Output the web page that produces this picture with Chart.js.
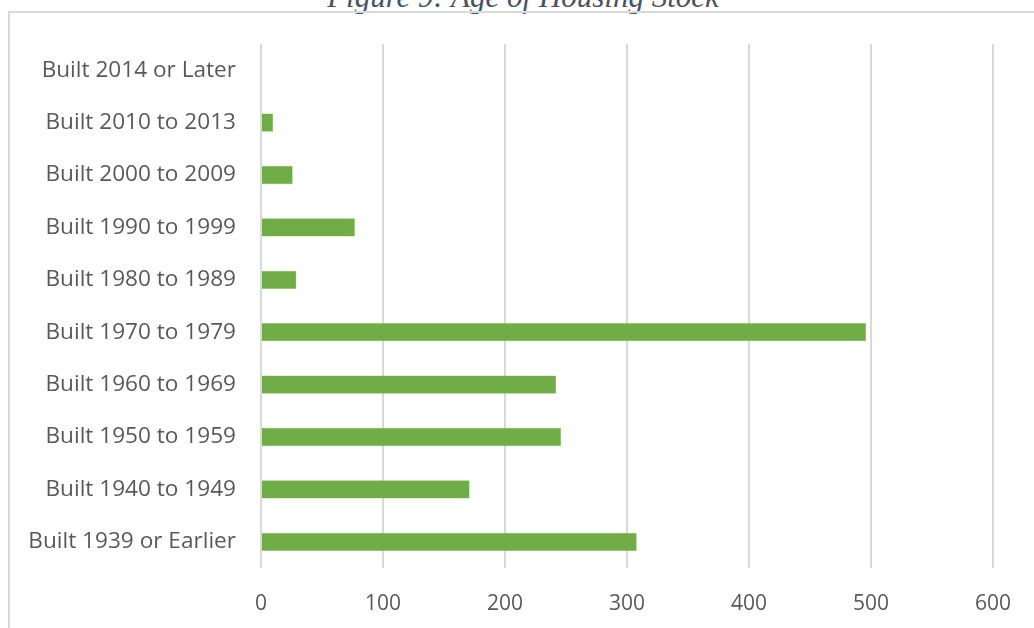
<!DOCTYPE html>
<html>
<head>
<meta charset="utf-8">
<script src="https://cdn.jsdelivr.net/npm/chart.js@4"></script>
<style>
  html, body { margin: 0; padding: 0; background: #fff; overflow: hidden; }
  #wrap { position: relative; width: 1034px; height: 628px; }
  #frame {
    position: absolute; left: 8px; top: 11px; width: 1100px; height: 700px;
    border: 2px solid #d9d9d9; box-sizing: border-box;
  }
  #title {
    position: absolute; left: 0; width: 1046px; top: -19px; text-align: center;
    font-family: "Liberation Serif", serif; font-style: italic; font-size: 31px;
    color: #44546a; line-height: 31px;
  }
  canvas { position: absolute; left: 0; top: 0; }
</style>
</head>
<body>
<div id="wrap">
  <div id="title">Figure 9: Age of Housing Stock</div>
  <div id="frame"></div>
  <canvas id="chart" width="1034" height="628"></canvas>
</div>
<script>
const categories = [
  'Built 2014 or Later',
  'Built 2010 to 2013',
  'Built 2000 to 2009',
  'Built 1990 to 1999',
  'Built 1980 to 1989',
  'Built 1970 to 1979',
  'Built 1960 to 1969',
  'Built 1950 to 1959',
  'Built 1940 to 1949',
  'Built 1939 or Earlier'
];
const units = [0, 10, 26, 77, 29, 496, 242, 246, 171, 308];
const xTicks = [0, 100, 200, 300, 400, 500, 600];

const ctx = document.getElementById('chart').getContext('2d');

new Chart(ctx, {
  type: 'bar',
  data: {
    labels: categories,
    datasets: [{
      data: units,
      backgroundColor: '#70ad47',
      borderColor: '#8cc46a',
      borderWidth: 0.5,
      barPercentage: 0.35,
      categoryPercentage: 1
    }]
  },
  options: {
    indexAxis: 'y',
    responsive: false,
    animation: false,
    layout: {
      padding: { left: 0, top: 44, right: 39, bottom: 0 }
    },
    scales: {
      x: {
        min: 0,
        max: 600,
        afterBuildTicks: (scale) => {
          scale.ticks = xTicks.map(v => ({ value: v }));
        },
        afterFit: (scale) => { scale.height = 60; },
        grid: { color: '#d9d9d9', lineWidth: 2, drawTicks: false },
        border: { display: false },
        ticks: {
          padding: 23,
          color: '#595959',
          font: { family: 'Open Sans', size: 21 }
        }
      },
      y: {
        afterFit: (scale) => { scale.width = 261; },
        grid: { display: false },
        border: { display: false },
        ticks: {
          padding: 17,
          color: '#595959',
          font: { family: 'Open Sans', size: 22.6 }
        }
      }
    },
    plugins: {
      legend: { display: false },
      title: { display: false },
      tooltip: { enabled: false }
    }
  }
});
</script>
</body>
</html>
